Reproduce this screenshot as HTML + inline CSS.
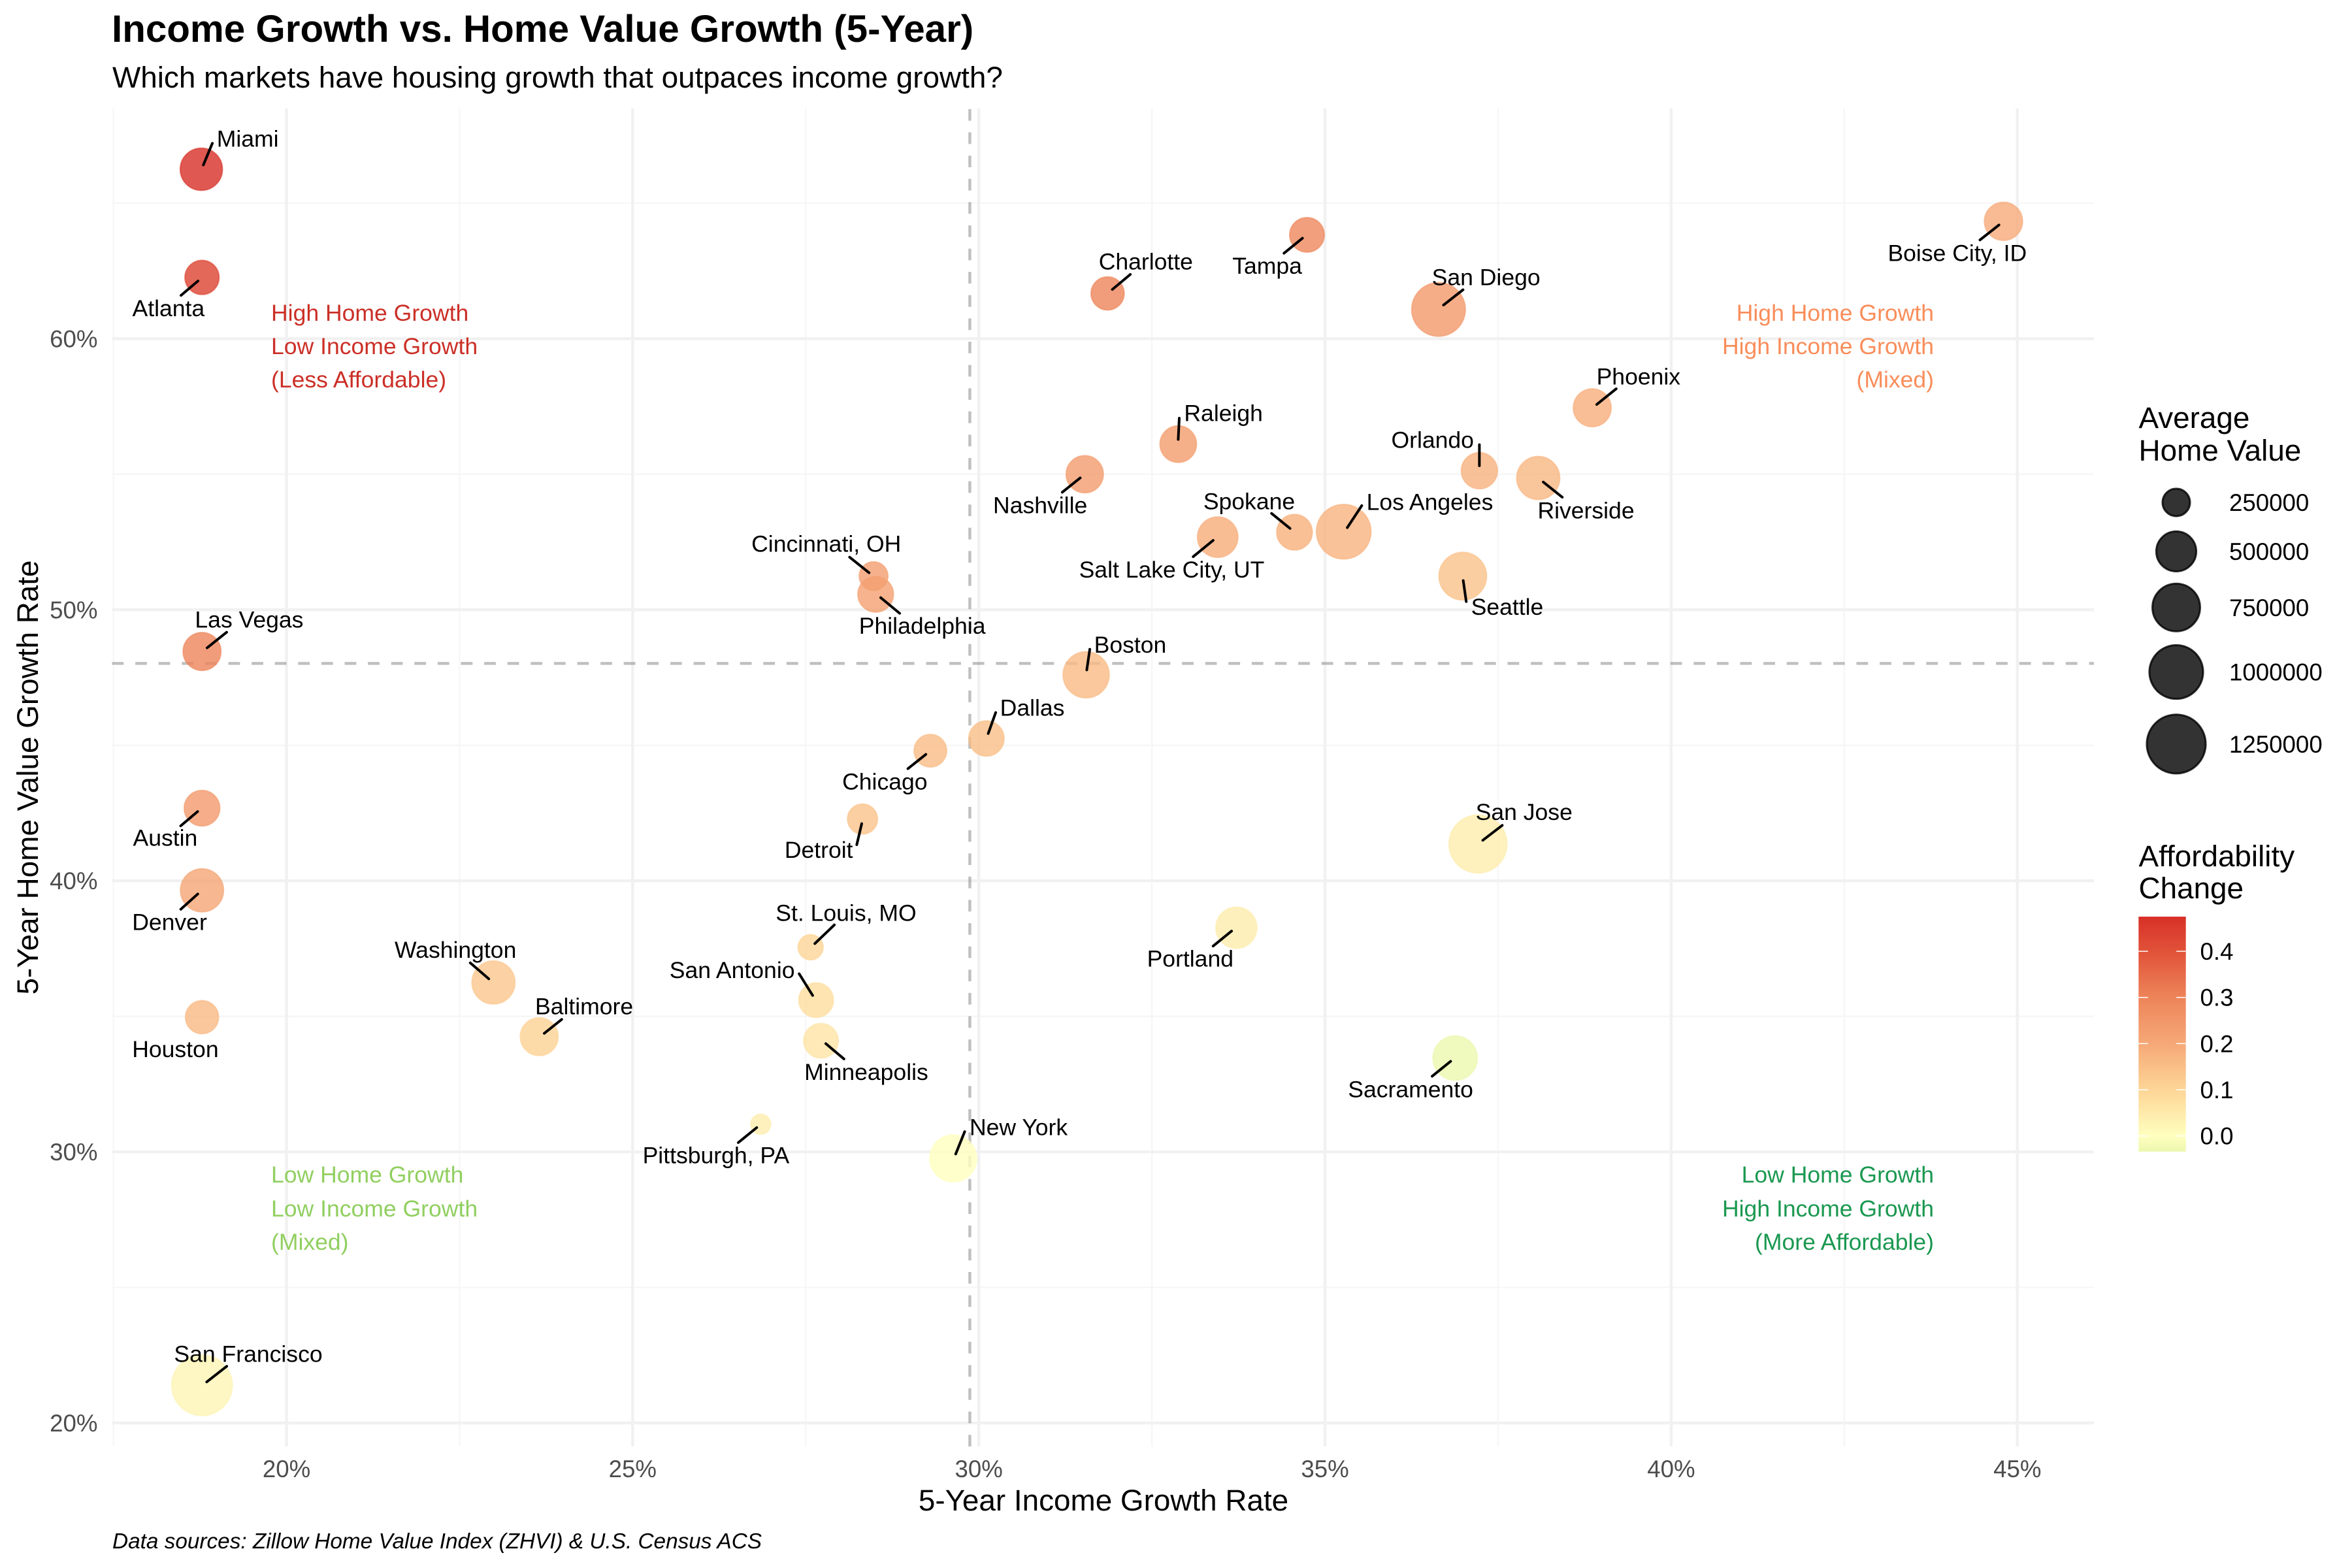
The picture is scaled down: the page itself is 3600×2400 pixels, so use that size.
<!DOCTYPE html>
<html lang="en">
<head>
<meta charset="utf-8">
<title>Income Growth vs. Home Value Growth (5-Year)</title>
<style>
html,body{margin:0;padding:0;background:#fff;width:3600px;height:2400px;overflow:hidden}
svg{display:block}
text{font-family:"Liberation Sans",sans-serif}
</style>
</head>
<body>
<svg id="chart" xmlns="http://www.w3.org/2000/svg" width="3600" height="2400" viewBox="0 0 3600 2400">
  <rect x="0" y="0" width="3600" height="2400" fill="#ffffff"/>
  <defs>
    <linearGradient id="afford-gradient" x1="0" y1="1" x2="0" y2="0"></linearGradient>
  </defs>
  <text x="171" y="64" font-size="58.33" font-weight="700" fill="#000">Income Growth vs. Home Value Growth (5-Year)</text>
  <text x="172" y="134" font-size="45.83" fill="#000">Which markets have housing growth that outpaces income growth?</text>
  <g id="grid"></g>
  <g id="axis-labels"></g>
  <text x="1689" y="2312" font-size="45.83" text-anchor="middle" fill="#000">5-Year Income Growth Rate</text>
  <text transform="translate(58,1190) rotate(-90)" font-size="45.83" text-anchor="middle" fill="#000">5-Year Home Value Growth Rate</text>
  <text x="172" y="2370" font-size="33.33" font-style="italic" fill="#000">Data sources: Zillow Home Value Index (ZHVI) &amp; U.S. Census ACS</text>

  <g id="reference-lines"></g>

  <g font-size="35.56" fill="#CB2F27">
    <text x="415" y="491">High Home Growth</text>
    <text x="415" y="542">Low Income Growth</text>
    <text x="415" y="593">(Less Affordable)</text>
  </g>
  <g font-size="35.56" fill="#F98D5A" text-anchor="end">
    <text x="2960" y="491">High Home Growth</text>
    <text x="2960" y="542">High Income Growth</text>
    <text x="2960" y="593">(Mixed)</text>
  </g>
  <g font-size="35.56" fill="#91CF60">
    <text x="415" y="1810">Low Home Growth</text>
    <text x="415" y="1862">Low Income Growth</text>
    <text x="415" y="1913">(Mixed)</text>
  </g>
  <g font-size="35.56" fill="#1A9850" text-anchor="end">
    <text x="2960" y="1810">Low Home Growth</text>
    <text x="2960" y="1862">High Income Growth</text>
    <text x="2960" y="1913">(More Affordable)</text>
  </g>

  <g id="points"></g>
  <g id="segments"></g>
  <g id="labels" font-size="35.56" fill="#000"></g>

  <g id="size-legend">
    <text x="3273.5" y="655" font-size="45.83">Average</text>
    <text x="3273.5" y="705" font-size="45.83">Home Value</text>
  </g>
  <g id="color-legend">
    <text x="3273.5" y="1326" font-size="45.83">Affordability</text>
    <text x="3273.5" y="1375" font-size="45.83">Change</text>
  </g>
</svg>
<script>
// ---- data ----
const cities = ["Miami","Atlanta","Tampa","Charlotte","San Diego","Raleigh","Nashville","Orlando","Riverside","Boise City, ID","Phoenix","Las Vegas","Austin","Denver","Houston","Washington","Baltimore","Cincinnati, OH","Philadelphia","Boston","Dallas","Chicago","Detroit","San Jose","Portland","St. Louis, MO","San Antonio","Minneapolis","Salt Lake City, UT","Spokane","Los Angeles","Seattle","San Francisco","Pittsburgh, PA","New York","Sacramento"];
const incomeGrowth = [18.77,18.78,34.74,31.86,36.64,32.88,31.53,37.23,38.08,44.80,38.86,18.78,18.78,18.78,18.78,22.99,23.65,28.48,28.51,31.55,30.11,29.30,28.32,37.21,33.72,27.57,27.65,27.72,33.45,34.56,35.27,36.99,18.78,26.85,29.63,36.88];
const homeGrowth = [66.25,62.26,63.83,61.67,61.08,56.11,55.00,55.13,54.86,64.33,57.45,48.46,42.68,39.65,34.97,36.25,34.25,51.24,50.57,47.60,45.25,44.80,42.28,41.36,38.27,37.55,35.60,34.10,52.68,52.86,52.88,51.24,21.39,31.02,29.76,33.46];
const homeValue = [546000,347000,357000,328000,972000,399000,414000,390000,574000,438000,430000,430000,378000,574000,328000,574000,430000,258000,378000,675000,370000,319000,276000,1180000,516000,220000,357000,357000,497000,378000,1015000,729000,1315000,192000,705000,616000];
const affordChange = [0.475,0.435,0.291,0.298,0.244,0.232,0.235,0.179,0.168,0.195,0.186,0.297,0.239,0.209,0.162,0.133,0.106,0.228,0.221,0.160,0.151,0.155,0.140,0.042,0.046,0.100,0.080,0.064,0.192,0.183,0.176,0.143,0.026,0.042,0.001,-0.034];

const xMajorTicks = [20,25,30,35,40,45];
const xMinorTicks = [17.5,22.5,27.5,32.5,37.5,42.5];
const yMajorTicks = [20,30,40,50,60];
const yMinorTicks = [25,35,45,55,65];
const medianIncomeGrowth = 29.87;
const medianHomeGrowth = 48.02;
const sizeLegendValues = [250000,500000,750000,1000000,1250000];
const colorLegendTicks = [0.4,0.3,0.2,0.1,0.0];
const colorStopValues = [-0.034,0,0.1,0.2,0.3,0.4,0.475];
const colorStopColors = ["#ECF7AE","#FFFFBF","#FDD596","#F6A877","#ED8459","#E15239","#D73027"];

// Repelled label placement, relative to each point: label dx,dy then connector start dx,dy and end dx,dy
const repelOffsets = {
  "Miami":[24.6,-34.7,3.1,-6.6,16.9,-39.8],
  "Atlanta":[-105.7,59.2,-6.2,5.5,-32.2,27.5],
  "Tampa":[-113.3,59.7,-6.9,5.1,-35.2,28.1],
  "Charlotte":[-12.6,-36.8,7.3,-6.1,34.8,-29.1],
  "San Diego":[-9.2,-37.3,7.6,-6.7,37.5,-30.1],
  "Raleigh":[10,-35.2,0,-7.2,1.6,-39.8],
  "Nashville":[-139.3,59.7,-6.9,5.6,-34.4,27.6],
  "Orlando":[-133.9,-35.2,0,-7.6,0,-39.8],
  "Riverside":[0,61.6,7.7,6.2,36.8,29.4],
  "Boise City, ID":[-176.1,60.7,-6.9,5.6,-36,28.5],
  "Phoenix":[7.5,-35.7,6.9,-5.1,36.7,-29.1],
  "Las Vegas":[-9.8,-36.7,7.8,-5.6,37.7,-29.5],
  "Austin":[-104.7,57.7,-6.7,5.1,-32.7,27.1],
  "Denver":[-106,60.7,-6.5,5.6,-32.5,29],
  "Houston":[-106,60.9],
  "Washington":[-150.4,-37.7,-7.2,-5.5,-35.6,-30],
  "Baltimore":[-5.3,-34.1,7.7,-5.1,34.5,-26.5],
  "Cincinnati, OH":[-186,-37.3,-6.9,-5.2,-36.7,-29.1],
  "Philadelphia":[-24.5,60.2,7.7,5.1,36.7,29.1],
  "Boston":[13.2,-34,1,-7.5,5.6,-39.1],
  "Dallas":[21.8,-34.7,2.7,-7.6,14.2,-39.8],
  "Chicago":[-133.9,59.7,-6.9,5.6,-34.4,27.5],
  "Detroit":[-118.3,59.2,-1.2,7.1,-8.8,39.3],
  "San Jose":[-2.6,-36.7,7.3,-5.6,37.1,-28.5],
  "Portland":[-135.8,59.7,-7.3,5.1,-35.6,28.1],
  "St. Louis, MO":[-52.4,-40.3,6.5,-5.6,36.4,-34.2],
  "San Antonio":[-223.4,-33.6,-5.3,-7.1,-26,-40.3],
  "Minneapolis":[-24.5,60,7.4,4.4,35.2,27.8],
  "Salt Lake City, UT":[-211.2,61.7,-6.9,5,-37.5,30],
  "Spokane":[-138.6,-34.9,-6.9,-5.8,-35.2,-28.8],
  "Los Angeles":[36,-33.3,5.5,-6.2,27.7,-39.9],
  "Seattle":[13.7,59.3,0.7,6.8,5.3,38.9],
  "San Francisco":[-41.8,-35.7,7.2,-5.1,37.9,-29.1],
  "Pittsburgh, PA":[-179.8,59.7,-6.1,5.1,-34.4,28.1],
  "New York":[26,-35.8,3.8,-6.7,17.6,-41],
  "Sacramento":[-163,60,-6.9,4.9,-35.2,27.8]
};

// ---- scales ----
const panel = {left:171.5, right:3205, top:166, bottom:2214};
function xScale(v){ return 438.5 + (v - 20) * 105.97; }
function yScale(v){ return 2178 - (v - 20) * 41.49; }
function sizeScale(v){ return 30 + 64 * Math.sqrt((v - 190000) / 1090000); }
function colorBarY(v){ return 1738.7 - v * 706.7; }
function hexToRgb(h){ return [1,3,5].map(function(i){ return parseInt(h.substr(i,2),16); }); }
function colorScale(v){
  var n = colorStopValues.length;
  if (v <= colorStopValues[0]) return colorStopColors[0];
  if (v >= colorStopValues[n-1]) return colorStopColors[n-1];
  for (var i = 0; i < n - 1; i++) {
    if (v <= colorStopValues[i+1]) {
      var t = (v - colorStopValues[i]) / (colorStopValues[i+1] - colorStopValues[i]);
      var a = hexToRgb(colorStopColors[i]), b = hexToRgb(colorStopColors[i+1]);
      return "rgb(" + a.map(function(c,k){ return Math.round(c + (b[k]-c)*t); }).join(",") + ")";
    }
  }
}
function slug(s){ return s.toLowerCase().replace(/[^a-z0-9]+/g,'-').replace(/^-|-$/g,''); }
var NS = "http://www.w3.org/2000/svg";
function make(tag, parentId, attrs, txt){
  var el = document.createElementNS(NS, tag);
  for (var k in attrs) el.setAttribute(k, attrs[k]);
  if (txt !== undefined) el.textContent = txt;
  document.getElementById(parentId).appendChild(el);
  return el;
}
var el;

// ---- grid ----
xMinorTicks.forEach(function(t){
  el = make("line","grid",{x1:xScale(t),x2:xScale(t),y1:panel.top,y2:panel.bottom,stroke:"#F6F6F6","stroke-width":2.2});
  
  
});
yMinorTicks.forEach(function(t){
  el = make("line","grid",{x1:panel.left,x2:panel.right,y1:yScale(t),y2:yScale(t),stroke:"#F6F6F6","stroke-width":2.2});
  
  
});
xMajorTicks.forEach(function(t){
  el = make("line","grid",{x1:xScale(t),x2:xScale(t),y1:panel.top,y2:panel.bottom,stroke:"#F1F1F1","stroke-width":4.4});
  
  
  el = make("text","axis-labels",{x:xScale(t),y:2261,"font-size":36.67,fill:"#4D4D4D","text-anchor":"middle"},t+"%");
  
  
});
yMajorTicks.forEach(function(t){
  el = make("line","grid",{x1:panel.left,x2:panel.right,y1:yScale(t),y2:yScale(t),stroke:"#F1F1F1","stroke-width":4.4});
  
  
  el = make("text","axis-labels",{x:149.5,y:yScale(t)+13,"font-size":36.67,fill:"#4D4D4D","text-anchor":"end"},t+"%");
  
  
});

// ---- reference lines ----
el = make("line","reference-lines",{x1:xScale(medianIncomeGrowth),x2:xScale(medianIncomeGrowth),y1:panel.bottom,y2:panel.top,stroke:"#7F7F7F","stroke-opacity":0.5,"stroke-width":4.44,"stroke-dasharray":"17.8 17.8"});


el = make("line","reference-lines",{x1:panel.left,x2:panel.right,y1:yScale(medianHomeGrowth),y2:yScale(medianHomeGrowth),stroke:"#7F7F7F","stroke-opacity":0.5,"stroke-width":4.44,"stroke-dasharray":"17.8 17.8"});



// ---- points, connectors, labels ----
cities.forEach(function(name,i){
  var cx = xScale(incomeGrowth[i]), cy = yScale(homeGrowth[i]);
  var col = colorScale(affordChange[i]);
  var c = make("circle","points",{cx:cx,cy:cy,r:sizeScale(homeValue[i])/2-1,fill:col,"fill-opacity":0.8,stroke:col,"stroke-opacity":0.6,"stroke-width":2});
  
  
  var o = repelOffsets[name];
  if (o.length > 2) {
    var s = make("line","segments",{x1:cx+o[2],y1:cy+o[3],x2:cx+o[4],y2:cy+o[5],stroke:"#000","stroke-width":4,"stroke-linecap":"round"});
    
    
  }
  var t = make("text","labels",{x:cx+o[0]-1,y:cy+o[1]},name);
  
  
});

// ---- size legend ----
var sizeLegendRowY = [769,844,929.8,1028.6,1138.8];
sizeLegendValues.forEach(function(v,i){
  var k = make("circle","size-legend",{cx:3331,cy:sizeLegendRowY[i],r:sizeScale(v)/2-1.5,fill:"#000","fill-opacity":0.8,stroke:"#000","stroke-opacity":0.8,"stroke-width":3});
  
  
  var l = make("text","size-legend",{x:3412,y:sizeLegendRowY[i]+13,"font-size":36.67},String(v));
  
  
});

// ---- colour legend ----
var grad = document.getElementById("afford-gradient");
colorStopValues.forEach(function(v,i){
  var st = document.createElementNS(NS,"stop");
  st.setAttribute("offset",(v - colorStopValues[0]) / (colorStopValues[colorStopValues.length-1] - colorStopValues[0]));
  st.setAttribute("stop-color",colorStopColors[i]);
  grad.appendChild(st);
});
el = make("rect","color-legend",{x:3273.3,y:colorBarY(0.475),width:72.4,height:colorBarY(-0.034)-colorBarY(0.475),fill:"url(#afford-gradient)"});


colorLegendTicks.forEach(function(v){
  var y = colorBarY(v);
  el = make("line","color-legend",{x1:3273.3,x2:3287.8,y1:y,y2:y,stroke:"#fff","stroke-width":1.5});
  
  
  el = make("line","color-legend",{x1:3331.2,x2:3345.7,y1:y,y2:y,stroke:"#fff","stroke-width":1.5});
  
  
  el = make("text","color-legend",{x:3367.5,y:y+13,"font-size":36.67},v.toFixed(1));
  
  
});
</script>
</body>
</html>
